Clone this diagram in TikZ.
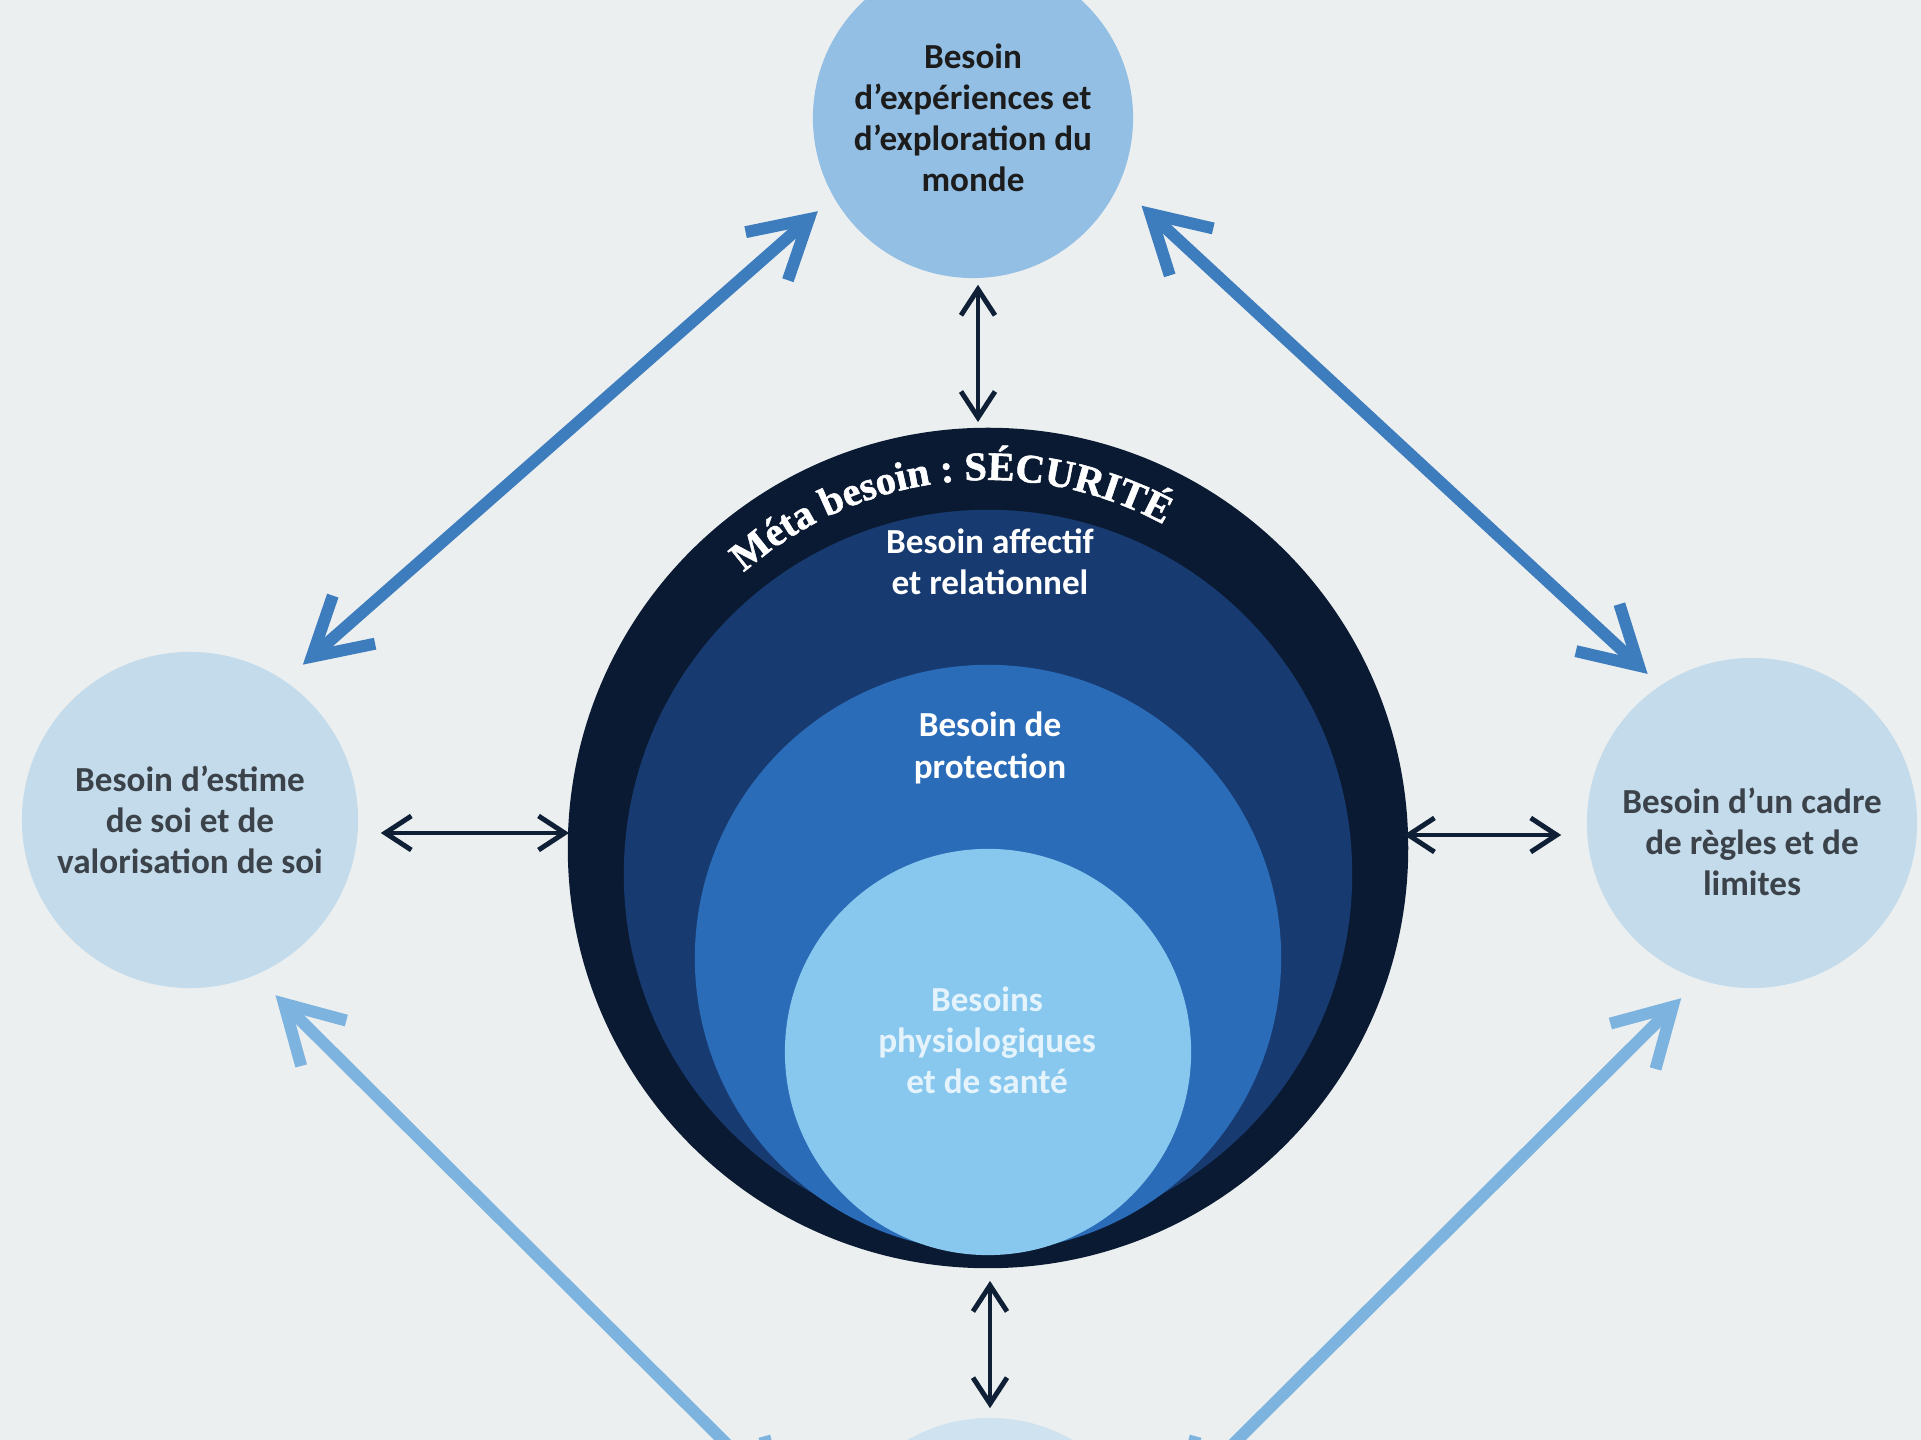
\documentclass[tikz,border=0pt]{standalone}
\usepackage{fontspec}
\setmainfont{Carlito}
\newfontfamily\ringfont{Liberation Serif}[UprightFont=* Bold, FakeBold=1.3]
\usetikzlibrary{arrows.meta,decorations.text,calc}
\definecolor{bgc}{HTML}{ECEFF0}
\definecolor{ringc}{HTML}{0B1A33}
\definecolor{affc}{HTML}{173A70}
\definecolor{protc}{HTML}{2A6CB8}
\definecolor{physc}{HTML}{88C8EE}
\definecolor{phystext}{HTML}{E4F3FC}
\definecolor{topc}{HTML}{93BFE4}
\definecolor{sidec}{HTML}{C3DBEA}
\definecolor{botc}{HTML}{CFE2EF}
\definecolor{arrtop}{HTML}{3D7DBD}
\definecolor{arrbot}{HTML}{7DB3DF}
\definecolor{smallc}{HTML}{0E1F36}
\definecolor{darktext}{HTML}{1C1C1C}
\definecolor{sidetext}{HTML}{3B4249}
\begin{document}
\begin{tikzpicture}[x=0.01cm,y=0.01cm,
  font=\fontsize{10}{11.7}\selectfont,
  disc/.style={circle, inner sep=0pt, draw=none},
  needc/.style={disc, align=center, font=\fontsize{10}{11.7}\selectfont\bfseries},
  needtext/.style={align=center, text=sidetext, font=\fontsize{10}{11.7}\selectfont\bfseries},
  intext/.style={align=center, text=white, font=\fontsize{10}{11.7}\selectfont\bfseries},
  bigarrow/.style={line width=3.4pt, {Straight Barb[length=5.6mm,width=6.4mm]}-{Straight Barb[length=5.6mm,width=6.4mm]}},
  smallarrow/.style={draw=smallc, line width=1.4pt, {Straight Barb[length=2.6mm,width=3.4mm]}-{Straight Barb[length=2.6mm,width=3.4mm]}}]
\useasboundingbox (0,0) rectangle (1921,1440);
\clip (0,0) rectangle (1921,1440);
\fill[bgc] (0,0) rectangle (1921,1440);

% central nested circles
\node[disc, fill=ringc, minimum size=8.4cm] (outer) at (988,592) {};
\node[disc, fill=affc, minimum size=7.28cm] (affect) at (988,566) {};
\node[disc, fill=protc, minimum size=5.86cm] (protect) at (988,482) {};
\node[disc, fill=physc, minimum size=4.06cm] (physio) at (988,388) {};

\node[intext] (taffect) at (990,878) {Besoin affectif\\et relationnel};
\node[intext] (tprotect) at (990,692) {Besoin de\\protection};
\node[intext, text=phystext] (tphysio) at (987,400) {Besoins\\physiologiques\\et de santé};

\path[decorate, decoration={text along path, text align=center, text color=white,
  text={|\ringfont\fontsize{11.5}{14}\selectfont|Méta besoin : SÉCURITÉ}}]
  ($(outer.center)+(146:368)$) arc[start angle=146, end angle=47, radius=368];

% surrounding needs
\node[needc, fill=topc, text=darktext, minimum size=3.2cm] (top) at (973,1322)
  {Besoin\\d’expériences et\\d’exploration du\\monde};
\node[needc, fill=sidec, text=sidetext, minimum size=3.36cm] (left) at (190,620)
  {Besoin d’estime\\de soi et de\\valorisation de soi};
\node[disc, fill=sidec, minimum size=3.3cm] (right) at (1752,617) {};
\node[needtext] (tright) at (1752,598) {Besoin d’un cadre\\de règles et de\\limites};
\node[disc, fill=botc, minimum size=3.3cm] (bottom) at (990,-143) {};

\coordinate (blend) at (790,-67);
\coordinate (brend) at (1170,-67);

% big connectors
\draw[bigarrow, draw=arrtop] ($(top.center)+(211:181)$) -- ($(left.center)+(54:192)$);
\draw[bigarrow, draw=arrtop] ($(top.center)+(-27.5:190)$) -- ($(right.center)+(125:182)$);
\draw[bigarrow, draw=arrbot] ($(left.center)+(-64:195)$) -- (blend);
\draw[bigarrow, draw=arrbot] ($(right.center)+(248:189)$) -- (brend);

% small connectors
\draw[smallarrow] ($(top.south)+(5,-6)$) -- ($(outer.north)+(-10,5)$);
\draw[smallarrow] ($(left.east)+(22,-13)$) -- ($(outer.west)+(2,15)$);
\draw[smallarrow] ($(outer.east)+(-5,13)$) -- ($(right.west)+(-25,-12)$);
\draw[smallarrow] ($(outer.south)+(2,-12)$) -- ($(bottom.north)+(0,9)$);
\end{tikzpicture}
\end{document}
